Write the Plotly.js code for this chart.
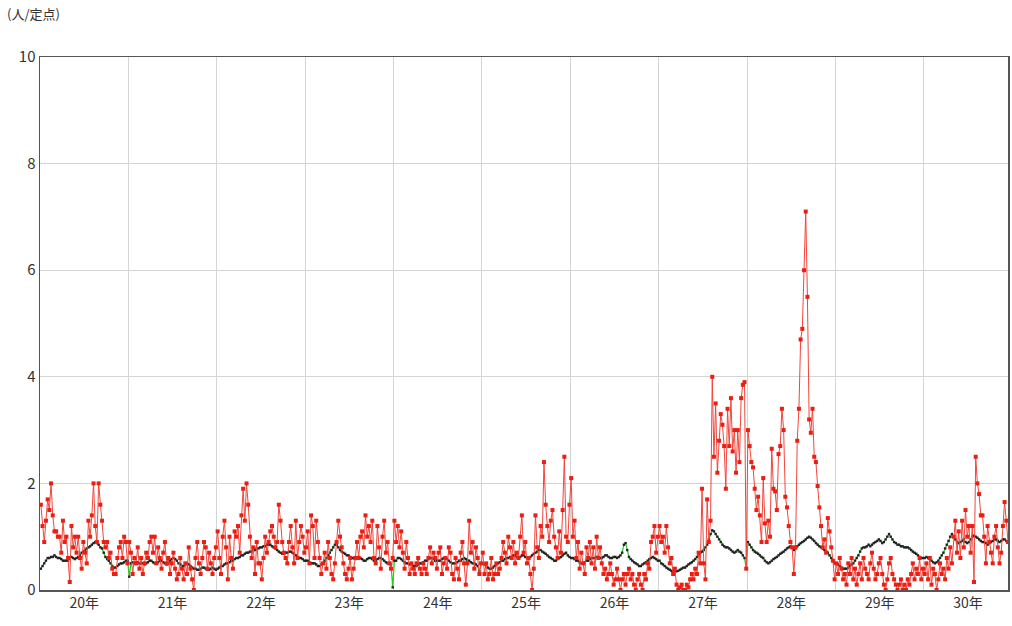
<!DOCTYPE html>
<html>
<head>
<meta charset="utf-8">
<script src="https://cdn.plot.ly/plotly-3.0.1.min.js"></script>
<style>
html,body{margin:0;padding:0;background:#fff;}
#chart{width:1012px;height:626px;}
</style>
</head>
<body>
<div id="chart"></div>
<script>
// Year tick labels (Heisei years)
const yearLabels = ['20年','21年','22年','23年','24年','25年','26年','27年','28年','29年','30年'];
const weeksPerYear = 52;

// Weekly reports per sentinel (red series), one array per year
const red20 = [1.6,1.2,0.9,1.3,1.7,1.5,2.0,1.4,1.1,1.1,1.0,1.0,0.7,1.3,0.9,1.0,0.6,0.15,1.2,0.8,1.0,0.7,1.0,0.6,0.4,0.9,0.7,0.5,1.3,1.0,1.4,2.0,1.2,0.9,2.0,1.6,1.3,0.9,0.8,0.9,0.6,0.7,0.4,0.3,0.3,0.6,0.8,0.9,0.6,1.0,0.9,0.5];
const red21 = [0.9,0.7,0.3,0.6,0.5,0.8,0.4,0.6,0.3,0.5,0.7,0.6,0.9,1.0,0.7,1.0,0.5,0.8,0.6,0.4,0.7,0.9,0.5,0.6,0.3,0.5,0.7,0.4,0.2,0.3,0.6,0.4,0.2,0.5,0.3,0.8,0.4,0.2,0.0,0.6,0.9,0.5,0.3,0.6,0.9,0.8,0.4,0.7,0.5,0.3,0.6,0.8];
const red22 = [1.1,0.6,0.3,1.0,1.3,0.8,0.2,1.0,0.6,0.4,1.1,1.0,1.2,0.7,1.4,1.9,1.3,2.0,1.6,1.0,0.6,0.8,0.3,0.9,0.5,0.5,0.2,0.6,1.0,0.7,0.9,1.1,1.2,1.0,0.8,0.9,1.6,1.3,0.9,0.7,0.6,0.5,0.9,1.2,0.8,0.5,1.3,0.6,0.9,1.2,1.0,0.7];
const red23 = [0.8,1.1,0.5,1.4,1.2,0.6,1.3,0.9,0.6,0.3,0.5,0.7,0.4,0.9,0.6,0.3,0.2,0.5,0.9,1.3,1.0,0.8,0.5,0.3,0.2,0.4,0.6,0.2,0.4,0.6,0.9,0.6,1.0,1.1,0.8,1.4,1.0,1.2,0.9,1.3,0.6,0.5,1.2,0.8,0.4,1.0,1.3,0.7,0.9,0.5,0.4,0.6];
const red24 = [1.3,0.9,1.2,0.8,1.1,0.7,0.4,0.9,0.6,0.3,0.5,0.4,0.3,0.5,0.6,0.4,0.3,0.5,0.4,0.3,0.6,0.8,0.5,0.7,0.6,0.4,0.7,0.8,0.3,0.5,0.6,0.4,0.8,0.7,0.3,0.2,0.6,0.4,0.2,0.7,0.9,0.5,0.1,0.5,1.3,0.7,0.9,0.4,0.8,0.6,0.3,0.5];
const red25 = [0.7,0.3,0.5,0.2,0.3,0.6,0.2,0.3,0.5,0.3,0.4,0.6,0.9,0.7,0.5,1.0,0.8,0.6,0.9,0.5,0.7,0.6,1.0,1.4,0.7,0.9,0.5,0.6,0.3,0.0,0.4,1.4,0.8,0.6,1.2,1.0,2.4,1.6,1.2,0.9,1.3,1.5,1.0,0.8,0.6,1.1,0.7,1.5,2.5,1.0,0.9,1.6];
const red26 = [2.1,1.0,1.3,0.6,0.9,0.4,0.7,0.5,0.3,0.8,0.6,0.9,0.5,0.8,0.4,1.0,0.6,0.8,0.5,0.3,0.4,0.2,0.3,0.5,0.3,0.1,0.2,0.4,0.2,0.0,0.2,0.3,0.1,0.3,0.4,0.2,0.3,0.1,0.0,0.2,0.3,0.1,0.0,0.3,0.2,0.5,0.4,0.9,1.0,1.2,0.7,1.0];
const red27 = [1.2,0.9,1.0,0.7,1.2,0.8,0.5,0.6,0.3,0.4,0.1,0.0,0.05,0.1,0.0,0.0,0.1,0.05,0.2,0.3,0.2,0.4,0.3,0.7,0.5,1.9,0.5,0.2,1.7,0.9,1.3,4.0,2.5,3.5,2.2,2.8,3.3,3.1,2.7,1.9,3.4,2.7,3.6,2.6,3.0,2.2,3.0,2.4,3.6,3.85,3.9,0.4];
const red28 = [3.0,2.7,2.4,2.3,1.9,1.5,1.75,1.4,0.9,2.1,1.25,0.9,1.3,1.0,2.65,1.9,1.85,1.5,2.55,2.7,3.4,3.0,1.75,1.55,1.2,0.9,0.8,0.3,0.8,2.8,3.4,4.7,4.9,6.0,7.1,5.5,3.2,2.95,3.4,2.5,2.4,1.95,1.55,1.2,0.8,0.95,0.7,1.35,1.1,0.8,0.55,0.2];
const red29 = [0.5,0.3,0.6,0.4,0.2,0.3,0.1,0.5,0.3,0.6,0.2,0.4,0.1,0.3,0.5,0.2,0.6,0.4,0.3,0.2,0.5,0.7,0.4,0.2,0.3,0.5,0.6,0.3,0.1,0.0,0.2,0.5,0.6,0.3,0.2,0.1,0.0,0.1,0.2,0.0,0.1,0.0,0.2,0.1,0.3,0.5,0.2,0.4,0.3,0.6,0.2,0.4];
const red30 = [0.3,0.5,0.2,0.6,0.1,0.4,0.3,0.0,0.2,0.5,0.3,0.4,0.2,0.6,0.4,0.8,0.5,1.0,1.3,0.7,1.1,0.6,1.3,0.8,1.5,1.0,1.2,0.7,1.2,0.15,2.5,2.0,1.8,1.4,1.4,1.0,0.5,1.2,0.9,0.7,0.5,1.0,1.2,0.8,0.5,0.7,1.2,1.65,1.3,0.9];

// Comparison series (green line with black markers), one array per year
const avg20 = [0.4,0.45,0.5,0.55,0.6,0.6,0.62,0.62,0.65,0.62,0.6,0.6,0.58,0.55,0.55,0.55,0.55,0.6,0.62,0.6,0.58,0.6,0.62,0.65,0.7,0.72,0.75,0.78,0.8,0.82,0.85,0.88,0.9,0.88,0.85,0.8,0.78,0.7,0.62,0.58,0.55,0.5,0.45,0.42,0.42,0.45,0.48,0.5,0.5,0.52,0.55,0.55];
const avg21 = [0.25,0.5,0.52,0.5,0.52,0.52,0.5,0.5,0.5,0.48,0.5,0.52,0.55,0.55,0.52,0.5,0.5,0.52,0.55,0.55,0.52,0.5,0.48,0.5,0.55,0.58,0.6,0.58,0.55,0.5,0.48,0.45,0.45,0.48,0.5,0.48,0.45,0.42,0.4,0.4,0.38,0.38,0.4,0.42,0.42,0.4,0.38,0.38,0.4,0.42,0.4,0.38];
const avg22 = [0.4,0.42,0.45,0.45,0.48,0.5,0.5,0.52,0.55,0.55,0.58,0.6,0.6,0.62,0.65,0.65,0.68,0.7,0.7,0.72,0.72,0.75,0.75,0.78,0.78,0.8,0.8,0.82,0.82,0.85,0.85,0.85,0.82,0.8,0.78,0.75,0.72,0.7,0.68,0.68,0.7,0.7,0.72,0.72,0.7,0.68,0.65,0.62,0.6,0.6,0.58,0.55];
const avg23 = [0.55,0.55,0.52,0.5,0.5,0.5,0.48,0.45,0.45,0.48,0.5,0.55,0.6,0.65,0.7,0.75,0.8,0.85,0.85,0.8,0.75,0.72,0.7,0.68,0.65,0.65,0.62,0.6,0.6,0.58,0.6,0.62,0.6,0.58,0.55,0.55,0.58,0.6,0.6,0.58,0.55,0.55,0.58,0.6,0.6,0.58,0.55,0.52,0.5,0.5,0.48,0.05];
const avg24 = [0.55,0.55,0.6,0.6,0.58,0.55,0.52,0.5,0.5,0.48,0.48,0.45,0.45,0.45,0.48,0.5,0.5,0.52,0.55,0.55,0.58,0.6,0.6,0.58,0.55,0.55,0.55,0.55,0.58,0.6,0.6,0.58,0.55,0.52,0.5,0.5,0.5,0.52,0.55,0.55,0.58,0.6,0.58,0.55,0.55,0.52,0.5,0.5,0.48,0.45,0.35,0.5];
const avg25 = [0.5,0.48,0.45,0.42,0.4,0.4,0.42,0.45,0.48,0.5,0.52,0.55,0.55,0.58,0.6,0.6,0.62,0.62,0.65,0.65,0.62,0.6,0.62,0.65,0.65,0.62,0.6,0.6,0.62,0.65,0.68,0.7,0.72,0.75,0.75,0.72,0.7,0.68,0.65,0.62,0.6,0.58,0.55,0.55,0.58,0.6,0.62,0.65,0.68,0.7,0.65,0.62];
const avg26 = [0.6,0.6,0.58,0.55,0.55,0.52,0.5,0.5,0.52,0.55,0.55,0.58,0.6,0.6,0.6,0.62,0.62,0.6,0.6,0.62,0.65,0.65,0.62,0.6,0.6,0.62,0.62,0.6,0.62,0.65,0.7,0.85,0.88,0.75,0.62,0.58,0.55,0.52,0.5,0.48,0.45,0.45,0.48,0.5,0.52,0.55,0.58,0.6,0.62,0.6,0.58,0.55];
const avg27 = [0.55,0.5,0.48,0.45,0.42,0.4,0.38,0.36,0.35,0.35,0.35,0.36,0.38,0.4,0.42,0.42,0.45,0.48,0.5,0.52,0.55,0.58,0.62,0.65,0.7,0.72,0.75,0.8,0.85,0.95,1.05,1.12,1.1,1.05,1.0,0.95,0.9,0.85,0.82,0.8,0.8,0.78,0.75,0.72,0.7,0.72,0.75,0.72,0.7,0.65,0.6,0.4];
const avg28 = [0.9,0.85,0.8,0.75,0.72,0.7,0.68,0.65,0.62,0.6,0.55,0.52,0.5,0.52,0.55,0.58,0.6,0.62,0.65,0.68,0.7,0.72,0.75,0.78,0.8,0.82,0.8,0.75,0.78,0.82,0.85,0.88,0.9,0.92,0.95,0.98,1.0,0.98,0.95,0.92,0.88,0.85,0.82,0.8,0.78,0.75,0.72,0.7,0.65,0.6,0.55,0.5];
const avg29 = [0.5,0.48,0.45,0.42,0.4,0.4,0.4,0.42,0.45,0.48,0.5,0.55,0.6,0.65,0.72,0.78,0.8,0.8,0.82,0.85,0.82,0.85,0.88,0.9,0.92,0.95,0.92,0.88,0.9,0.95,1.0,1.05,1.0,0.95,0.9,0.88,0.85,0.85,0.82,0.82,0.8,0.8,0.8,0.78,0.75,0.72,0.7,0.68,0.65,0.62,0.6,0.6];
const avg30 = [0.6,0.62,0.6,0.58,0.55,0.52,0.5,0.52,0.55,0.6,0.65,0.7,0.78,0.85,0.92,1.0,1.05,1.0,0.95,0.9,0.88,0.9,0.92,0.95,0.9,0.88,0.9,0.95,1.0,1.02,1.0,0.98,0.95,0.92,0.9,0.9,0.88,0.85,0.88,0.9,0.92,0.95,0.95,0.92,0.9,0.92,0.95,0.95,0.92,0.9];

const redYears = [red20,red21,red22,red23,red24,red25,red26,red27,red28,red29,red30];
const avgYears = [avg20,avg21,avg22,avg23,avg24,avg25,avg26,avg27,avg28,avg29,avg30];

function flatten(years){
  const xs=[], ys=[];
  years.forEach((arr,k)=>{
    arr.forEach((v,i)=>{ xs.push(k*weeksPerYear + i + 0.5); ys.push(v); });
  });
  return {xs, ys};
}
const R = flatten(redYears);
const A = flatten(avgYears);
const lastX = R.xs[R.xs.length-1];

const centers = yearLabels.map((_,k)=>k*weeksPerYear + weeksPerYear/2);
const bounds = yearLabels.slice(1).map((_,k)=>(k+1)*weeksPerYear);

const traces = [
  {
    x: A.xs, y: A.ys, type:'scatter', mode:'lines+markers',
    line:{color:'rgb(40,200,40)', width:1.2},
    marker:{color:'#222', size:2.4, symbol:'square'},
    hoverinfo:'skip', showlegend:false
  },
  {
    x: R.xs, y: R.ys, type:'scatter', mode:'lines+markers',
    line:{color:'rgb(240,70,60)', width:1},
    marker:{color:'rgb(235,30,20)', size:4, symbol:'square'},
    hoverinfo:'skip', showlegend:false
  }
];

const fontFam = '"Noto Sans CJK JP", "Noto Sans", sans-serif';
const layout = {
  width:1012, height:626,
  margin:{l:40, r:4, t:57, b:36},
  paper_bgcolor:'#fff', plot_bgcolor:'#fff',
  font:{family:fontFam, size:13, color:'#333'},
  showlegend:false,
  xaxis:{
    range:[0, lastX],
    tickmode:'array', tickvals:centers, ticktext:yearLabels,
    showgrid:false, zeroline:false,
    ticks:'', ticklen:0,
    showline:true, linecolor:'#555', linewidth:1.5, mirror:true,
    tickfont:{size:14, color:'#333'},
    minor:{tickmode:'array', tickvals:bounds, showgrid:true, gridcolor:'#d4d4d4', gridwidth:1, ticks:''},
    fixedrange:true
  },
  yaxis:{
    range:[0,10], tickmode:'array', tickvals:[0,2,4,6,8,10], ticktext:['0','2','4','6','8','10'],
    showgrid:true, gridcolor:'#d4d4d4', gridwidth:1, zeroline:false,
    ticks:'', showline:true, linecolor:'#555', linewidth:1.5, mirror:true,
    tickfont:{size:15, color:'#333'},
    fixedrange:true
  },
  annotations:[
    {text:'(人/定点)', xref:'paper', yref:'paper', x:-0.036, y:1.06, xanchor:'left', yanchor:'bottom',
     showarrow:false, font:{size:13, color:'#333', family:fontFam}}
  ]
};

Plotly.newPlot('chart', traces, layout, {displayModeBar:false, staticPlot:true});
</script>
</body>
</html>
